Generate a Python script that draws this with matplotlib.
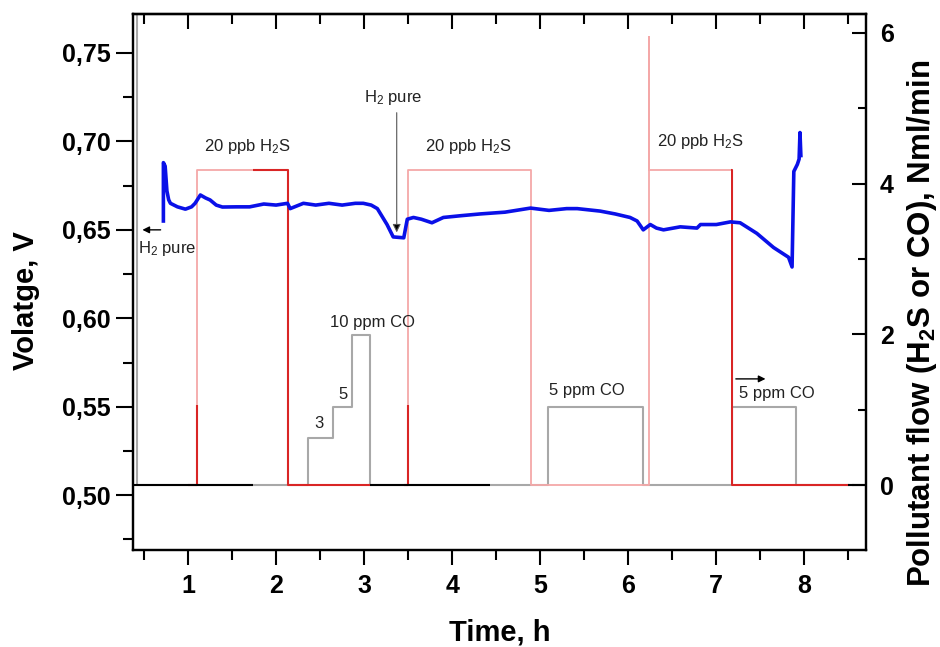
import matplotlib.pyplot as plt
import numpy as np
from matplotlib.patches import Rectangle
from matplotlib.ticker import FixedLocator, MultipleLocator

plt.rcParams['font.family'] = ['Liberation Sans', 'DejaVu Sans']
plt.rcParams['mathtext.default'] = 'regular'

# Cell voltage (left axis)
volt_t = [0.72, 0.72, 0.74, 0.76, 0.78, 0.80, 0.88, 0.97, 1.04, 1.08, 1.14, 1.20, 1.25, 1.32, 1.39,
          1.55, 1.70, 1.86, 2.00, 2.13, 2.16, 2.31, 2.45, 2.60, 2.75, 2.90, 2.99, 3.08, 3.15,
          3.26, 3.33, 3.45, 3.49, 3.56, 3.65, 3.77, 3.90, 4.10, 4.32, 4.60, 4.89, 5.10, 5.30,
          5.42, 5.68, 5.85, 6.02, 6.10, 6.17, 6.25, 6.32, 6.40, 6.59, 6.78, 6.82, 7.00, 7.16,
          7.27, 7.46, 7.65, 7.82, 7.86, 7.88, 7.92, 7.94, 7.95, 7.96]
volt_v = [0.655, 0.688, 0.686, 0.672, 0.667, 0.665, 0.663, 0.6617, 0.663, 0.665, 0.6697, 0.668,
          0.6669, 0.664, 0.6629, 0.663, 0.663, 0.6646, 0.664, 0.665, 0.662, 0.665, 0.664, 0.665,
          0.664, 0.665, 0.665, 0.664, 0.662, 0.653, 0.646, 0.6455, 0.656, 0.657, 0.656, 0.654,
          0.657, 0.658, 0.659, 0.660, 0.6623, 0.661, 0.662, 0.662, 0.6606, 0.659, 0.657, 0.655,
          0.650, 0.653, 0.651, 0.650, 0.6517, 0.651, 0.653, 0.653, 0.6545, 0.654, 0.648, 0.640,
          0.6345, 0.629, 0.683, 0.687, 0.690, 0.705, 0.692]

# Pollutant flows (right axis)
h2s_t = [0.375, 1.10, 1.10, 2.13, 2.13, 3.50, 3.50, 4.89, 4.89, 6.23, 6.23, 6.23, 7.18, 7.18, 8.49]
h2s_flow = [0, 0, 4.18, 4.18, 0, 0, 4.18, 4.18, 0, 0, 5.94, 4.18, 4.18, 0, 0]

co_t = [0.42, 0.42, 2.36, 2.36, 2.65, 2.65, 2.86, 2.86, 3.07, 3.07, 5.09, 5.09, 6.17, 6.17,
        7.18, 7.18, 7.91, 7.91, 8.55]
co_flow = [6.5, 0, 0, 0.62, 0.62, 1.04, 1.04, 1.99, 1.99, 0, 0, 1.04, 1.04, 0, 0, 1.04, 1.04, 0, 0]

# stretches of the zero line drawn in black
base_start = [0.375, 3.07, 8.49]
base_end = [1.74, 4.43, 8.70]

left_ticks = [0.50, 0.55, 0.60, 0.65, 0.70, 0.75]
right_ticks = [0, 2, 4, 6]
x_ticks = [1, 2, 3, 4, 5, 6, 7, 8]

fig = plt.figure(figsize=(9.4, 6.47), dpi=100)
ax = fig.add_axes([0.1415, 0.1499, 0.7798, 0.8284])
ax2 = ax.twinx()
ax.set_zorder(ax2.get_zorder() + 1)
ax.patch.set_visible(False)

pink = '#f4a8a8'
red = '#d92525'
gray = '#a8a8a8'

ax2.plot(co_t, co_flow, color=gray, lw=1.5)
ax2.plot(h2s_t, h2s_flow, color=pink, lw=1.3)
# darker parts of the H2S trace
for x0, y0, w, h in [(1.0, -1, 0.2, 2.07), (1.74, -1, 1.33, 8), (3.45, -1, 0.1, 2.07), (7.17, -1, 1.5, 8)]:
    ln, = ax2.plot(h2s_t, h2s_flow, color=red, lw=1.5)
    ln.set_clip_path(Rectangle((x0, y0), w, h, transform=ax2.transData))
ax2.hlines(np.zeros(len(base_start)), base_start, base_end, color='black', lw=1.5)

ax.plot(volt_t, volt_v, color='#0a10e8', lw=2.6)

ax.set_xlim(0.375, 8.70)
ax.set_ylim(0.469, 0.772)
ax2.set_ylim(-0.86, 6.25)

tick_font = dict(fontsize=18, fontweight='bold')
ax.xaxis.set_major_locator(FixedLocator(x_ticks))
ax.set_xticklabels([str(v) for v in x_ticks], **tick_font)
ax.xaxis.set_minor_locator(MultipleLocator(0.5))
ax.yaxis.set_major_locator(FixedLocator(left_ticks))
ax.set_yticklabels([f'{v:.2f}'.replace('.', ',') for v in left_ticks], **tick_font)
ax.yaxis.set_minor_locator(MultipleLocator(0.025))
ax2.yaxis.set_major_locator(FixedLocator(right_ticks))
ax2.set_yticklabels([str(v) for v in right_ticks], **tick_font)
ax2.yaxis.set_minor_locator(MultipleLocator(1))

ax.tick_params(axis='x', which='both', direction='out', top=False)
ax.tick_params(axis='x', which='major', length=11, width=1.5, pad=6)
ax.tick_params(axis='x', which='minor', length=7, width=1.5)
ax.tick_params(axis='y', which='major', length=12, width=1.5, pad=4)
ax.tick_params(axis='y', which='minor', length=7, width=1.5)
ax2.tick_params(axis='y', which='major', direction='in', length=10, width=1.5, pad=10)
ax2.tick_params(axis='y', which='minor', direction='in', length=6, width=1.5)

# inward ticks along the top edge
top = ax.secondary_xaxis('top')
top.xaxis.set_major_locator(FixedLocator(x_ticks))
top.xaxis.set_minor_locator(MultipleLocator(0.5))
top.tick_params(which='both', direction='in', labeltop=False, width=1.5)
top.tick_params(which='major', length=11)
top.tick_params(which='minor', length=7)

for a in (ax, ax2):
    for s in a.spines.values():
        s.set_linewidth(1.6)
top.spines['top'].set_linewidth(1.6)

ax.set_xlabel('Time, h', fontsize=21, fontweight='bold')
ax.xaxis.set_label_coords(0.50, -0.128)
ax.set_ylabel('Volatge, V', fontsize=21, fontweight='bold')
ax.yaxis.set_label_coords(-0.127, 0.466)
ax2.set_ylabel('Pollutant flow (H$_2$S or CO), Nml/min', fontsize=22.5, fontweight='bold')
ax2.yaxis.set_label_coords(1.053, 0.423)

note = dict(fontsize=12, color='#222222', ha='center', va='center')
ax.text(1.67, 0.697, '20 ppb H$_2$S', **note)
ax.text(4.18, 0.697, '20 ppb H$_2$S', **note)
ax.text(6.82, 0.6997, '20 ppb H$_2$S', **note)
ax.text(0.76, 0.6397, 'H$_2$ pure', **note)
ax.text(3.33, 0.7251, 'H$_2$ pure', **note)
ax2.text(3.09, 2.16, '10 ppm CO', **note)
ax2.text(2.49, 0.82, '3', **note)
ax2.text(2.76, 1.20, '5', **note)
ax2.text(5.53, 1.25, '5 ppm CO', **note)
ax2.text(7.69, 1.22, '5 ppm CO', **note)

ax.annotate('', xy=(0.45, 0.65), xytext=(0.72, 0.65),
            arrowprops=dict(arrowstyle='-|>', color='black', lw=1, mutation_scale=10))
ax.annotate('', xy=(3.37, 0.647), xytext=(3.37, 0.7178),
            arrowprops=dict(arrowstyle='-|>', color='#555555', lw=0.8, mutation_scale=12,
                            fc='black'))
ax2.annotate('', xy=(7.59, 1.41), xytext=(7.19, 1.41),
             arrowprops=dict(arrowstyle='-|>', color='black', lw=1, mutation_scale=10))

fig.savefig('out.png', dpi=100)
